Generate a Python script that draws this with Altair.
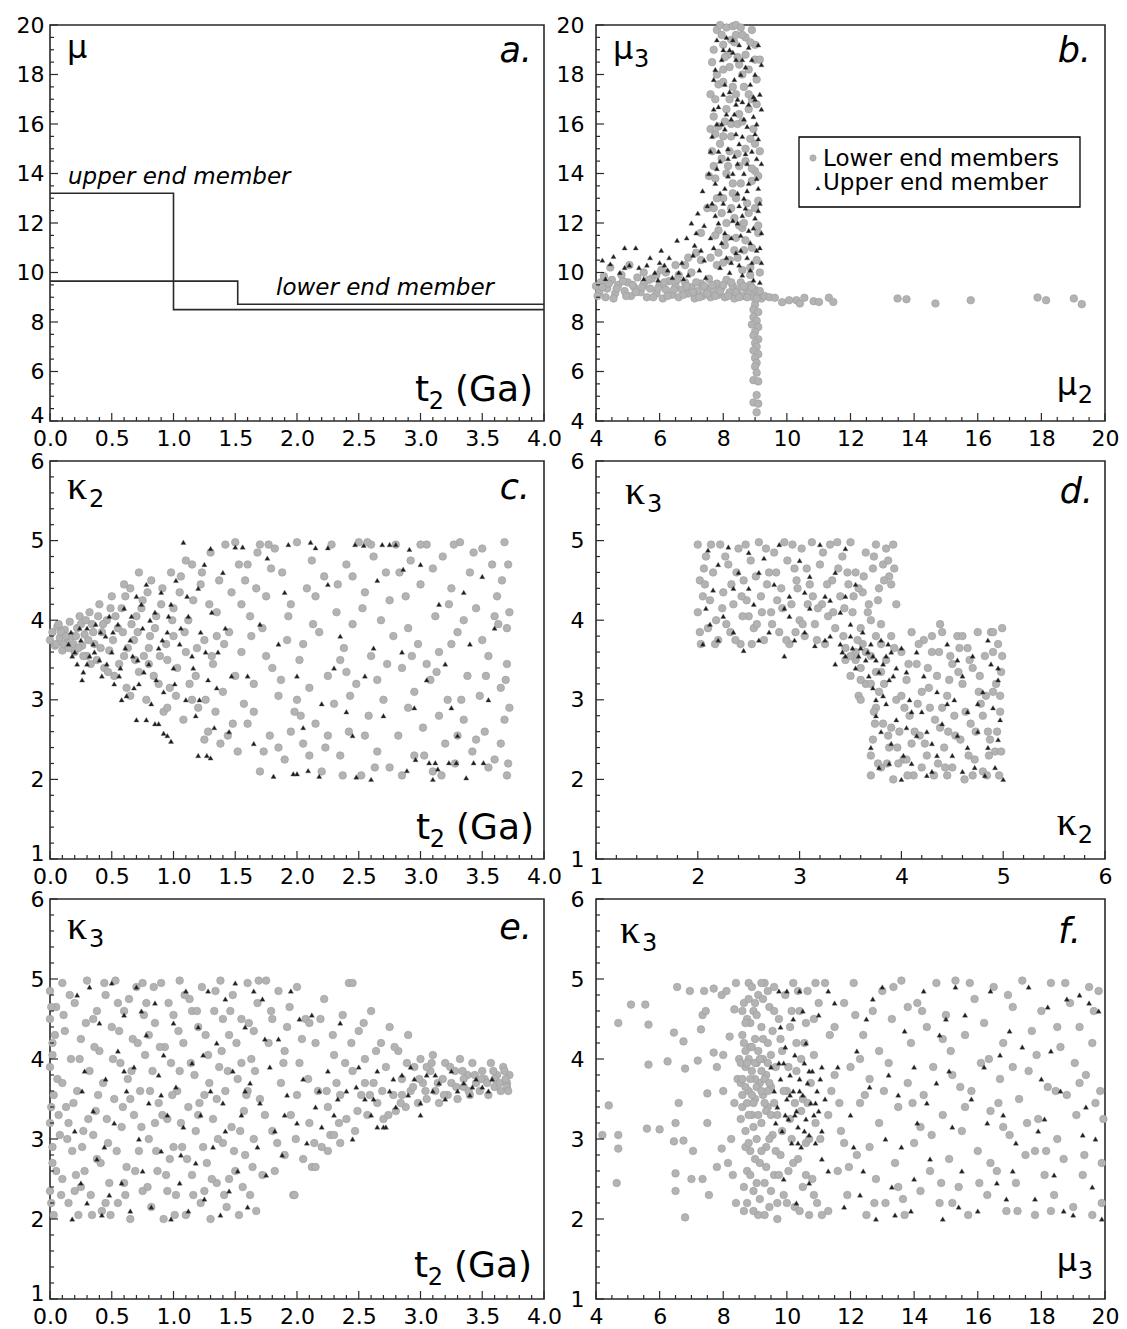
import altair as alt
import pandas as pd

SANS = "DejaVu Sans"
SERIF = "Liberation Serif"
FRAME = "#2a2a2a"
GFILL = "#b3b3b3"
GSTROKE = "#9c9c9c"
TFILL = "#1c1c1c"

# ---------------- panel a : step histories ----------------
a_upper_t = [0.0, 1.0, 4.0]
a_upper_mu = [13.2, 8.5, 8.5]
a_lower_t = [0.0, 1.52, 4.0]
a_lower_mu = [9.65, 8.72, 8.72]

# ---------------- panel b : mu2 vs mu3 ----------------
b_lower = [
    (4.0,9.45),(4.1,9.2),(4.15,9.6),(4.3,9.0),(4.35,9.35),(4.5,9.7),(4.6,9.15),(4.7,9.5),(4.8,9.9),(4.9,9.25),
    (5.0,9.6),(5.1,9.05),(5.2,9.4),(5.3,9.8),(5.4,9.2),(5.5,9.55),(5.6,9.0),(5.7,9.35),(5.75,9.75),(5.9,9.15),
    (6.0,9.5),(6.1,8.95),(6.2,9.3),(6.3,9.65),(6.4,9.1),(6.5,9.45),(6.6,9.0),(6.7,9.3),(6.8,9.6),(6.9,9.15),
    (7.0,9.4),(7.1,8.95),(7.2,9.25),(7.3,9.55),(7.35,9.05),(7.45,9.35),(7.55,9.75),(7.6,9.0),(7.7,9.3),(7.8,9.55),
    (7.85,9.1),(7.95,9.4),(8.05,9.0),(8.1,9.7),(8.2,9.2),(8.3,9.45),(8.35,8.95),(8.45,9.3),(8.55,9.6),(8.6,9.05),
    (8.7,9.35),(8.8,9.15),(8.85,9.5),(8.95,9.0),(9.0,9.3),(9.1,9.1),(9.2,8.95),(9.3,9.05),(4.45,10.2),(5.05,10.3),
    (5.5,10.0),(4.25,9.85),(6.05,10.1),
    (9.45,9.0),(9.62,8.98),(9.85,8.8),(10.07,8.88),(10.3,8.88),(10.41,8.75),(10.55,8.98),(10.84,8.84),(11.01,8.81),
    (11.32,8.98),(11.46,8.81),(13.48,8.95),(13.76,8.92),(14.67,8.75),(15.78,8.88),(17.88,8.99),(18.15,8.88),
    (19.02,8.95),(19.27,8.72),
    (9.0,8.7),(8.95,8.5),(9.1,8.4),(8.95,8.2),(9.05,8.05),(8.9,7.9),(9.1,7.8),(9.0,7.6),(8.95,7.45),(9.1,7.3),
    (9.0,7.15),(9.05,7.0),(8.95,6.85),(9.1,6.7),(9.0,6.55),(9.05,6.35),(9.0,6.2),(9.05,5.95),(8.95,5.65),(9.1,5.6),
    (9.05,5.05),(8.95,4.75),(9.1,4.7),(9.05,4.35),
    (7.65,18.5),(7.7,16.3),(7.65,14.9),(7.75,15.6),(7.8,19.8),(7.9,20.0),(8.0,19.2),(8.1,19.9),(8.3,19.95),(8.4,20.0),
    (8.55,19.9),(8.7,19.5),(8.9,19.8),(9.0,19.2),(7.85,17.6),(8.0,18.2),(8.2,17.0),(8.45,18.7),(8.6,18.0),(8.8,17.2),
    (9.05,17.8),(7.75,13.8),(7.9,15.2),(8.05,16.1),(8.25,15.5),(8.5,16.4),(8.7,15.0),(8.95,15.8),(7.7,12.6),(7.85,11.7),
    (8.0,13.0),(8.15,14.3),(8.35,12.2),(8.55,13.6),(8.75,12.8),(9.0,14.1),(7.6,10.6),(7.8,10.3),(8.05,11.1),(8.2,10.5),
    (8.4,11.4),(8.65,10.9),(8.85,10.2),(9.1,11.6),(7.3,10.5),(7.0,10.0),(6.8,10.3),(6.6,9.9),(7.95,14.6),(8.3,13.2),
    (8.6,11.8),(9.1,12.9),(8.1,12.0),(8.45,14.8),(8.8,16.6),(8.15,18.8),(7.6,17.2),(9.15,10.0),(8.9,13.7),(8.35,19.3),
]
b_lower_more = [
    (4.05,9.05),(4.2,9.4),(4.4,9.55),(4.55,8.95),(4.65,9.35),(4.85,9.65),(4.95,9.05),(5.15,9.5),(5.25,9.2),(5.45,9.4),
    (5.65,9.7),(5.8,9.0),(5.95,9.35),(6.15,9.6),(6.25,9.05),(6.45,9.3),(6.55,9.7),(6.75,9.1),(6.85,9.45),(7.05,9.2),
    (7.15,9.6),(7.25,9.0),(7.4,9.45),(7.5,9.15),(7.65,9.5),(7.75,9.05),(7.9,9.25),(8.0,9.5),(8.15,9.05),(8.25,9.6),
    (8.4,9.2),(8.5,9.0),(8.65,9.45),(8.75,9.0),(8.9,9.4),(9.05,8.95),(9.15,9.25),
    (7.7,19.0),(7.8,18.0),(7.75,17.0),(7.85,15.9),(7.7,14.3),(7.8,13.0),(7.75,11.5),(7.85,10.8),(7.95,19.6),(8.05,18.7),
    (8.0,17.7),(8.1,16.6),(8.0,15.5),(8.1,14.0),(7.95,12.4),(8.1,11.4),(8.0,10.4),(8.25,19.4),(8.2,18.3),(8.3,17.5),
    (8.25,16.0),(8.2,14.9),(8.3,13.6),(8.25,12.6),(8.35,10.9),(8.4,19.6),(8.5,18.4),(8.4,17.2),(8.45,16.0),(8.5,14.3),
    (8.4,13.0),(8.5,11.9),(8.45,10.6),(8.6,19.6),(8.7,18.8),(8.65,17.5),(8.6,16.1),(8.7,14.5),(8.65,12.0),(8.7,11.3),
    (8.6,10.1),(8.85,19.3),(8.8,18.2),(8.9,17.0),(8.85,15.4),(8.9,14.2),(8.8,12.4),(8.9,11.0),(8.85,9.9),(9.0,18.6),
    (9.05,16.8),(9.0,15.2),(9.1,13.9),(9.0,12.6),(9.05,10.5),(9.15,18.6),(9.15,14.9),(9.1,11.9),(7.6,15.8),(7.55,13.9),
    (7.5,12.6),(7.3,11.6),(7.15,10.8),(6.9,10.6),(6.5,10.3),(6.2,10.0),(5.9,9.9),
]
b_upper = [
    (4.2,10.5),(4.3,9.75),(4.45,10.35),(4.55,10.65),(4.75,10.0),(4.9,11.0),(5.05,10.3),(5.25,11.0),(5.35,10.2),(5.5,9.75),
    (5.7,10.6),(5.85,10.0),(6.05,10.9),(6.15,10.3),(6.3,10.6),(6.4,9.8),(6.55,11.3),(6.7,10.4),(6.85,11.4),(6.9,9.9),
    (7.0,12.0),(7.05,10.7),(7.15,11.6),(7.2,12.4),(7.3,10.9),(7.35,13.3),(7.4,11.9),(7.45,9.8),(7.5,12.7),(7.55,14.0),
    (6.75,9.75),(6.25,10.1),(5.95,9.7),(7.25,10.1),
    (7.65,15.5),(7.7,17.8),(7.75,13.6),(7.8,19.4),(7.7,11.0),(7.75,12.3),(7.85,16.7),(7.9,14.5),(7.95,18.6),(7.9,10.2),
    (8.0,12.8),(8.05,15.8),(8.1,19.5),(8.05,11.6),(8.15,13.9),(8.2,17.3),(8.2,10.0),(8.25,16.2),(8.3,18.9),(8.3,12.1),
    (8.35,14.7),(8.4,10.8),(8.45,17.0),(8.45,13.2),(8.5,19.2),(8.5,15.2),(8.55,11.5),(8.6,16.9),(8.6,9.9),(8.65,14.0),
    (8.7,18.3),(8.7,12.6),(8.75,15.9),(8.75,10.6),(8.8,19.1),(8.8,13.6),(8.85,17.6),(8.85,11.2),(8.9,14.9),(8.95,16.3),
    (8.95,9.7),(9.0,12.2),(9.0,18.0),(9.05,13.8),(9.05,10.9),(9.1,15.4),(9.1,19.2),(9.15,12.8),(9.15,17.2),(9.2,14.4),
    (9.2,11.6),(9.15,9.6),(7.95,16.0),(8.05,13.4),(8.25,11.4),(8.4,15.6),(8.55,18.0),(8.65,13.0),(8.9,10.4),(7.8,14.2),
    (8.1,10.6),(8.35,16.4),(8.6,12.3),(8.8,16.8),(9.05,16.0),(7.7,16.6),(8.5,10.3),(8.0,17.2),(8.3,14.0),(8.75,14.4),
    (7.85,12.0),(8.15,15.0),(8.45,12.0),(8.95,11.8),(9.1,13.4),(8.2,19.0),(8.6,15.5),(8.4,18.6),(7.6,14.9),(9.0,17.0),
]
b_upper_more = [
    (7.75,18.2),(7.8,16.0),(7.85,14.9),(7.9,13.2),(7.95,11.2),(8.0,19.0),(8.05,17.6),(8.1,16.4),(8.15,14.6),(8.2,12.5),
    (8.25,10.4),(8.3,19.4),(8.35,17.8),(8.4,16.8),(8.45,14.4),(8.5,12.7),(8.55,10.9),(8.6,18.6),(8.65,16.2),(8.7,14.8),
    (8.75,13.3),(8.8,11.7),(8.85,10.1),(8.9,18.6),(8.95,17.1),(9.0,15.6),(9.05,14.6),(9.1,12.5),(9.15,11.0),(9.2,16.6),
    (9.2,18.4),(9.2,10.4),(7.65,12.8),(7.6,11.4),(7.4,10.5),(7.1,11.1),(6.6,10.0),(6.0,10.4),(5.6,10.3),(4.9,10.2),
]

# ---------------- panel c : t2 vs kappa2 ----------------
c_lower = [
    (0.0,3.75),(0.02,3.85),(0.04,3.68),(0.06,3.92),(0.08,3.78),(0.1,3.62),(0.12,3.88),(0.14,3.72),(0.16,3.98),(0.18,3.8),
    (0.2,3.6),(0.22,3.9),(0.24,4.05),(0.26,3.68),(0.28,3.82),(0.3,3.55),(0.32,4.1),(0.34,3.95),(0.36,3.7),(0.38,3.5),
    (0.4,4.2),(0.42,3.85),(0.44,3.4),(0.46,4.0),(0.48,3.62),
    (0.5,4.3),(0.52,3.3),(0.55,3.9),(0.58,4.15),(0.6,3.55),(0.62,3.15),(0.65,4.4),(0.68,3.75),(0.7,4.05),(0.72,3.35),
    (0.75,4.25),(0.78,3.0),(0.8,3.65),(0.82,4.5),(0.85,3.9),(0.88,3.2),(0.9,4.2),(0.92,2.85),(0.95,3.5),(0.98,4.6),
    (1.0,3.8),(1.02,3.05),(1.05,4.35),(1.08,2.75),(1.1,3.6),(1.12,4.0),(1.15,4.7),(1.18,3.3),(1.2,2.9),(1.22,4.45),
    (1.25,3.75),(1.28,2.6),(1.3,4.85),(1.32,3.45),(1.35,4.1),(1.38,2.45),(1.4,3.1),(1.42,4.95),(1.45,3.85),(1.48,2.7),
    (0.6,4.45),(0.72,4.6),(1.1,4.75),(1.25,2.5),(0.95,2.9),(0.65,3.05),(1.0,4.15),(0.8,3.45),(1.15,3.0),(1.35,3.8),
    (1.5,4.98),(1.52,2.35),(1.55,3.6),(1.58,4.5),(1.6,2.7),(1.62,4.05),(1.65,3.2),(1.68,4.85),(1.7,2.1),(1.72,3.9),
    (1.75,4.3),(1.78,2.55),(1.8,3.4),(1.82,4.9),(1.85,3.05),(1.88,4.6),(1.9,2.25),(1.92,3.75),(1.95,4.2),(1.98,2.85),
    (2.0,4.98),(2.02,3.5),(2.05,2.45),(2.08,4.4),(2.1,3.15),(2.12,4.75),(2.15,2.7),(2.18,3.85),(2.2,2.1),(2.22,4.55),
    (2.25,3.3),(2.28,4.95),(2.3,2.95),(2.32,4.1),(2.35,2.3),(2.38,3.65),(2.4,4.7),(2.42,2.6),(2.45,3.95),(2.48,3.2),
    (2.5,4.98),(2.52,2.05),(2.55,4.35),(2.58,2.8),(2.6,3.55),(2.62,4.8),(2.65,2.35),(2.68,4.0),(2.7,3.0),(2.72,4.6),
    (2.75,2.15),(2.78,3.8),(2.8,4.95),(2.82,2.55),(2.85,3.4),(2.88,4.3),(2.9,2.9),(2.92,4.75),(2.95,2.3),(2.98,3.7),
    (3.0,4.45),(3.02,2.65),(3.05,4.95),(3.08,3.25),(3.1,2.1),(3.12,4.05),(3.15,3.6),(3.18,4.8),(3.2,2.45),(3.22,3.0),
    (3.25,4.4),(3.28,2.2),(3.3,3.85),(3.32,4.98),(3.35,2.75),(3.38,3.3),(3.4,4.6),(3.42,2.35),(3.45,4.15),(3.48,3.05),
    (3.5,4.9),(3.52,2.6),(3.55,3.55),(3.58,4.7),(3.6,2.25),(3.62,4.3),(3.65,3.15),(3.68,4.98),(3.7,2.05),(3.7,3.9),
    (3.68,2.75),(3.66,4.5),(3.7,3.45),(3.72,2.9),(3.72,4.1),(1.6,4.7),(1.75,3.55),(1.95,2.6),(2.15,4.3),(2.35,3.5),
    (2.55,2.55),(2.75,4.25),(2.95,3.1),(3.15,2.8),(3.35,4.0),(3.55,2.15),(1.7,4.95),(2.05,3.7),(2.45,4.55),(2.85,2.05),
    (3.25,3.7),(3.6,4.05),(1.85,2.4),(2.25,2.55),(2.65,3.25),(3.05,3.45),(3.45,2.5),(1.55,4.2),(2.0,3.0),(2.4,3.35),
    (2.9,3.9),(3.3,2.55),(3.65,2.45),(1.65,2.85),(2.1,2.3),(2.6,4.95),(3.1,4.65),(3.5,3.75),
]
c_lower_more = [
    (0.05,3.7),(0.07,3.95),(0.09,3.85),(0.11,3.7),(0.13,3.8),(0.15,3.65),(0.19,3.7),(0.21,3.8),(0.23,3.65),(0.25,3.95),
    (0.27,3.55),(0.29,4.0),(0.31,3.75),(0.33,3.45),(0.35,3.85),(0.39,4.05),(0.41,3.65),(0.43,3.95),(0.47,3.35),(0.49,4.15),
    (0.51,3.75),(0.53,4.05),(0.56,3.45),(0.59,3.85),(0.61,4.3),(0.63,3.65),(0.66,3.95),(0.69,3.5),(0.71,3.85),(0.74,4.15),
    (0.76,3.55),(0.79,4.35),(0.81,3.8),(0.84,3.3),(0.86,4.05),(0.89,3.55),(0.91,4.4),(0.94,3.7),(0.97,3.15),(0.99,4.0),
    (1.03,3.4),(1.06,4.55),(1.09,3.85),(1.13,3.2),(1.16,4.25),(1.19,3.65),(1.23,4.6),(1.26,3.0),(1.29,4.2),(1.31,3.55),
    (1.34,2.85),(1.37,4.5),(1.41,3.7),(1.44,2.55),(1.47,4.35),(1.5,3.3),(1.53,4.7),(1.57,2.95),(1.63,3.8),(1.67,4.4),
    (1.73,2.35),(1.79,4.65),(1.87,3.25),(1.93,4.05),(2.03,2.8),(2.13,3.95),(2.23,2.4),(2.33,4.45),(2.43,3.05),(2.53,4.15),
    (2.63,2.15),(2.73,3.45),(2.83,4.6),(2.93,3.55),(3.03,2.3),(3.13,3.35),(3.23,4.2),(3.33,3.0),(3.43,4.85),(3.53,3.3),
    (3.63,3.95),(3.71,2.2),(3.71,4.7),(3.69,3.25),(1.77,4.95),(2.57,4.98),(3.27,4.95),(3.0,4.95),(2.37,2.05),(3.17,2.05),
]
c_upper = [
    (0.15,3.7),(0.17,3.85),(0.2,3.6),(0.22,3.45),(0.25,3.75),(0.27,3.35),(0.3,3.9),(0.32,3.55),(0.35,3.7),(0.37,3.95),
    (0.4,3.5),(0.42,3.3),(0.45,3.8),(0.48,4.05),(0.5,3.6),(0.52,3.2),(0.55,3.95),(0.57,3.4),(0.6,4.15),(0.62,3.05),
    (0.65,3.75),(0.67,3.55),(0.7,4.3),(0.72,3.2),(0.75,3.9),(0.78,4.45),(0.8,3.45),(0.82,2.95),(0.85,4.1),(0.88,3.65),
    (0.9,4.35),(0.92,3.1),(0.95,3.85),(0.98,4.2),(1.0,3.4),(1.02,4.5),(1.05,3.7),(1.08,4.98),(1.1,3.0),(1.12,4.05),
    (1.15,3.55),(1.18,2.8),(1.2,4.4),(1.22,3.85),(1.25,4.7),(1.28,3.25),(1.3,4.9),(1.33,2.65),(1.36,3.6),(1.4,4.6),
    (0.7,2.75),(0.78,2.75),(0.85,2.7),(0.88,2.7),(0.92,2.58),(0.95,2.55),(0.98,2.48),(1.2,2.3),(1.27,2.3),(1.3,2.27),
    (1.45,2.6),(1.5,4.92),(1.56,4.92),(1.6,3.3),(1.65,2.45),
    (1.76,4.78),(1.81,2.04),(1.93,4.95),(1.97,2.07),(2.0,2.07),(2.09,2.11),(2.11,4.98),(2.15,4.91),(2.18,2.04),(2.25,4.91),
    (2.3,3.4),(2.4,2.85),(2.47,4.95),(2.48,2.03),(2.54,4.94),(2.6,2.0),(2.62,3.65),(2.69,4.95),(2.75,4.95),(2.8,4.95),
    (2.86,4.64),(2.89,2.11),(2.91,4.89),(2.96,2.25),(3.0,4.7),(3.07,2.21),(3.1,2.0),(3.12,2.21),(3.14,2.13),(3.2,3.45),
    (3.23,2.21),(3.29,2.21),(3.35,4.35),(3.37,2.02),(3.43,2.21),(3.5,4.55),(3.51,2.21),(3.55,3.0),(3.6,3.9),(1.85,3.7),
    (2.0,3.3),(2.2,2.95),(2.35,3.8),(2.55,3.3),(2.7,2.8),(2.85,3.6),(3.05,3.25),(3.25,2.9),(3.4,3.7),(1.9,4.35),
    (2.25,4.45),(2.65,4.5),(3.15,4.2),(1.7,3.95),(2.05,2.65),(2.45,2.55),(2.95,2.9),(3.3,2.55),
]
c_upper_more = [
    (0.18,3.55),(0.24,3.9),(0.3,3.45),(0.36,3.6),(0.41,3.85),(0.46,3.45),(0.51,3.85),(0.56,3.3),(0.61,3.65),(0.66,4.05),
    (0.71,3.5),(0.76,3.35),(0.81,4.0),(0.86,3.25),(0.91,3.75),(0.96,4.05),(1.01,3.2),(1.06,3.9),(1.11,4.3),(1.16,3.4),
    (1.21,3.0),(1.26,3.6),(1.31,4.1),(1.35,3.15),(1.42,3.9),(1.47,3.3),(0.26,3.25),(0.58,3.0),(0.68,3.15),(0.74,4.2),
]

# ---------------- panel d : kappa2 vs kappa3 ----------------
d_lower = [
    (2.0,4.95),(2.02,4.5),(2.0,4.1),(2.03,3.7),(2.05,4.3),(2.08,4.8),(2.1,3.9),(2.15,4.6),(2.18,4.0),(2.2,3.75),
    (2.22,4.95),(2.25,4.35),(2.3,4.7),(2.32,3.85),(2.35,4.2),(2.4,4.9),(2.42,3.7),(2.45,4.5),(2.5,4.05),(2.52,4.75),
    (2.55,3.9),(2.6,4.98),(2.62,4.3),(2.65,3.75),(2.7,4.6),(2.72,4.1),(2.75,4.85),(2.8,3.85),(2.82,4.4),(2.85,4.98),
    (2.9,3.7),(2.92,4.2),(2.95,4.65),(3.0,4.0),(3.02,4.9),(3.05,3.8),(3.1,4.45),(3.12,4.98),(3.15,3.95),(3.2,4.7),
    (3.22,4.2),(3.25,3.7),(3.3,4.95),(3.32,4.5),(3.35,3.9),(3.4,4.3),(3.42,4.8),(3.45,3.65),(3.5,4.98),(3.52,4.1),
    (3.55,4.6),(3.6,3.9),(3.62,4.35),(3.65,4.85),(3.7,4.0),(3.72,4.65),(3.75,4.95),(3.78,4.4),(3.82,4.7),(3.85,4.9),
    (3.88,4.55),(3.92,4.95),(3.9,4.45),(3.95,4.2),(2.12,4.25),(2.38,4.6),(2.58,3.95),(2.78,4.25),(2.98,4.4),(3.18,4.15),
    (3.38,4.65),(3.58,4.4),(2.28,3.95),(2.48,4.25),(2.68,4.45),(2.88,4.75),(3.08,4.2),(3.28,4.05),(3.48,4.45),(3.68,4.2),
    (3.8,3.95),(2.06,4.65),(2.44,4.05),(2.96,3.85),(3.44,4.15),(3.75,3.8),
    (3.45,3.5),(3.5,3.3),(3.55,3.6),(3.6,3.4),(3.65,3.2),(3.58,3.05),(3.7,3.55),(3.75,3.35),(3.8,3.7),(3.62,3.7),
    (3.7,2.05),(3.72,2.5),(3.75,2.9),(3.7,2.3),(3.78,3.1),(3.8,2.15),(3.82,2.7),(3.85,3.5),(3.88,2.4),(3.9,3.8),
    (3.92,2.0),(3.95,3.0),(3.98,2.6),(4.0,3.6),(4.02,2.25),(4.05,3.25),(4.08,2.8),(4.1,3.85),(4.12,2.05),(4.15,3.45),
    (4.18,2.55),(4.2,3.1),(4.22,3.75),(4.25,2.3),(4.28,2.9),(4.3,3.6),(4.32,2.05),(4.35,3.3),(4.38,2.65),(4.4,3.85),
    (4.42,2.4),(4.45,3.05),(4.48,3.55),(4.5,2.15),(4.52,2.8),(4.55,3.8),(4.58,2.5),(4.6,3.2),(4.62,2.0),(4.65,3.65),
    (4.68,2.7),(4.7,3.4),(4.72,2.25),(4.75,3.85),(4.78,2.95),(4.8,2.1),(4.82,3.55),(4.85,2.6),(4.88,3.85),(4.9,3.1),
    (4.92,2.35),(4.95,3.7),(4.97,2.85),(4.98,3.35),(4.96,2.05),(4.99,3.9),(3.74,2.7),(3.86,2.2),(3.96,2.4),(4.06,2.05),
    (4.16,2.95),(4.26,3.4),(4.36,2.2),(4.46,2.6),(4.56,3.35),(4.66,2.3),(4.76,3.1),(4.86,2.3),(4.94,2.6),(3.8,3.35),
    (4.0,3.05),(4.2,2.15),(4.4,2.9),(4.6,3.8),(4.8,2.8),(3.9,2.65),(4.1,2.45),(4.3,3.8),(4.5,3.45),(4.7,2.05),
    (4.9,3.6),(3.6,3.0),(4.38,3.95),(4.84,2.05),
]
d_lower_more = [
    (2.02,3.85),(2.07,4.45),(2.13,4.95),(2.17,3.7),(2.24,4.15),(2.27,4.8),(2.33,4.45),(2.37,3.75),(2.43,4.3),(2.47,4.95),
    (2.53,3.7),(2.57,4.55),(2.63,4.1),(2.67,4.9),(2.73,3.95),(2.77,4.6),(2.83,4.15),(2.87,3.75),(2.93,4.95),(2.97,4.5),
    (3.03,3.95),(3.07,4.65),(3.13,4.3),(3.17,3.75),(3.23,4.85),(3.27,4.45),(3.33,4.1),(3.37,4.98),(3.43,3.8),(3.47,4.6),
    (3.53,4.3),(3.57,3.75),(3.63,4.55),(3.67,4.1),(3.73,4.8),(3.77,4.25),(3.83,4.5),(3.87,4.75),(3.93,4.65),(3.55,3.5),
    (3.65,3.6),(3.5,3.55),(3.7,3.2),(3.6,3.25),
    (3.73,2.85),(3.77,2.2),(3.83,3.2),(3.87,2.55),(3.93,3.65),(3.97,2.2),(4.03,2.9),(4.07,3.45),(4.13,2.6),(4.17,3.7),
    (4.23,2.45),(4.27,3.15),(4.33,2.75),(4.37,3.6),(4.43,2.15),(4.47,3.25),(4.53,2.55),(4.57,3.65),(4.63,2.85),(4.67,3.5),
    (4.73,2.6),(4.77,3.3),(4.83,3.05),(4.87,2.5),(4.93,3.2),(4.98,2.35),(4.99,3.55),(4.97,3.05),(4.05,2.25),(4.45,2.05),
    (4.9,3.85),
]
d_upper = [
    (2.05,3.7),(2.08,4.15),(2.1,4.88),(2.15,4.38),(2.2,3.75),(2.25,4.05),(2.3,4.92),(2.35,3.85),(2.4,4.6),(2.45,3.62),
    (2.5,4.85),(2.55,4.2),(2.6,3.75),(2.65,4.78),(2.7,3.85),(2.75,4.45),(2.8,4.95),(2.85,3.55),(2.9,4.3),(2.95,3.75),
    (3.0,4.75),(3.05,3.85),(3.1,4.55),(3.15,3.68),(3.2,4.95),(3.25,4.3),(3.3,3.8),(3.35,4.6),(3.4,4.1),(3.45,4.9),
    (3.5,3.95),(3.55,4.45),(3.3,4.25),(2.5,4.4),(2.9,4.05),(3.1,4.15),(2.2,4.7),
    (3.35,3.45),(3.4,3.7),(3.45,3.55),(3.5,3.8),(3.55,3.4),(3.6,3.65),(3.62,3.85),(3.65,3.5),(3.68,3.3),(3.7,3.7),
    (3.72,3.15),(3.75,3.5),(3.78,3.35),(3.8,3.75),(3.82,3.05),(3.85,3.55),(3.88,3.25),(3.9,3.6),(3.95,3.4),(4.0,3.65),
    (3.58,3.55),(3.75,3.0),
    (3.7,2.4),(3.75,2.8),(3.78,2.15),(3.8,2.6),(3.85,2.95),(3.88,2.2),(3.9,2.45),(3.95,2.75),(4.0,2.0),(4.02,2.3),
    (4.05,2.65),(4.08,3.0),(4.1,2.2),(4.15,2.55),(4.2,2.85),(4.22,3.3),(4.25,2.05),(4.3,2.45),(4.35,3.1),(4.4,2.7),
    (4.45,3.7),(4.5,2.3),(4.52,3.0),(4.55,2.55),(4.6,3.3),(4.65,2.85),(4.7,3.55),(4.72,2.15),(4.75,2.6),(4.8,3.1),
    (4.82,2.05),(4.85,2.4),(4.88,3.45),(4.9,2.9),(4.92,2.15),(4.95,3.25),(4.97,2.75),(5.0,2.0),(4.15,3.6),(4.35,2.3),
    (4.6,2.1),(4.85,3.75),(4.25,2.6),(4.45,2.95),(4.65,2.4),(4.95,3.4),
]
d_upper_more = [
    (2.12,3.95),(2.35,4.4),(2.6,4.6),(2.85,4.15),(3.05,4.35),(3.25,3.75),(3.45,4.3),(3.42,3.6),(3.52,3.65),(3.67,3.6),
    (3.82,3.45),(3.92,3.3),(3.72,3.55),(3.87,3.7),(4.1,2.85),(4.3,2.1),(4.55,3.5),(4.75,2.95),(4.95,2.5),(4.05,3.35),
]

# ---------------- panel e : t2 vs kappa3 ----------------
e_lower = [
    (0.0,4.85),(0.0,4.5),(0.02,4.2),(0.0,3.9),(0.03,3.55),(0.0,3.2),(0.02,2.7),(0.0,2.35),(0.03,2.05),(0.05,4.65),
    (0.06,3.75),(0.08,3.05),(0.1,4.95),(0.1,2.5),(0.12,4.35),(0.13,3.4),(0.15,2.2),(0.17,4.0),(0.18,2.85),(0.2,4.7),
    (0.22,3.6),(0.23,2.05),(0.25,4.25),(0.27,3.1),(0.28,2.6),(0.3,4.98),(0.32,3.85),(0.33,2.3),(0.35,4.5),(0.37,3.35),
    (0.38,2.75),(0.4,4.1),(0.42,2.1),(0.43,3.7),(0.45,4.8),(0.47,2.95),(0.48,2.45),(0.5,4.4),(0.52,3.5),(0.53,4.98),
    (0.55,2.2),(0.57,3.95),(0.58,3.15),(0.6,4.6),(0.62,2.65),(0.63,3.75),(0.65,2.0),(0.67,4.25),(0.68,3.3),(0.7,4.9),
    (0.72,2.85),(0.73,3.6),(0.75,2.35),(0.77,4.05),(0.78,4.7),(0.8,3.0),(0.82,2.15),(0.83,3.85),(0.85,4.45),(0.87,2.6),
    (0.88,3.45),(0.9,4.95),(0.92,2.0),(0.93,4.15),(0.95,3.25),(0.97,2.75),(0.98,3.95),(1.0,4.55),(1.02,2.3),(1.03,3.6),
    (1.05,4.98),(1.07,2.9),(1.08,4.2),(1.1,2.05),(1.12,3.4),(1.13,4.75),(1.15,2.55),(1.17,3.8),(1.18,3.1),(1.2,4.4),
    (1.22,2.2),(1.23,4.9),(1.25,3.55),(1.27,2.7),(1.28,4.05),(1.3,2.0),(1.32,3.25),(1.33,4.6),(1.35,2.45),(1.37,3.9),
    (1.38,4.98),(1.4,2.95),(1.42,3.6),(1.43,2.15),(1.45,4.3),(1.47,3.15),(1.48,4.8),(1.5,2.6),(1.52,3.75),(1.53,2.05),
    (1.55,4.5),(1.57,3.35),(1.58,2.8),(1.6,4.95),(1.62,2.3),(1.63,4.0),(1.65,3.0),(1.67,2.1),(1.68,4.7),(1.7,3.5),
    (1.72,2.55),(1.75,4.98),(1.77,4.2),(1.8,3.1),(1.82,2.6),(1.85,4.85),(1.87,3.7),(1.9,2.8),(1.92,4.4),(1.95,3.3),
    (1.97,2.3),(2.0,4.9),(2.02,3.95),(2.05,2.75),(2.07,4.5),(2.1,3.2),(2.12,2.65),(2.15,4.2),(2.17,3.6),(2.2,2.9),
    (2.22,4.75),(2.25,3.4),(2.27,3.05),(2.3,4.05),(2.32,3.7),(2.35,2.95),(2.37,4.55),(2.4,3.25),(2.42,4.95),(2.45,3.85),
    (2.47,3.1),(2.5,4.35),(2.52,3.55),(2.55,4.0),(2.57,3.3),(2.6,4.6),(2.62,3.7),(2.65,3.45),(2.68,4.2),(2.7,3.25),
    (2.72,3.9),(2.75,4.4),(2.78,3.55),(2.8,3.35),(2.82,4.1),(2.85,3.75),(2.88,3.4),(2.9,4.3),(2.92,3.6),(2.95,3.9),
    (2.98,3.45),(3.0,4.0),(3.02,3.7),(3.05,3.5),(3.08,3.85),(3.1,4.05),(3.12,3.6),(3.15,3.45),(3.18,3.75),(3.2,3.95),
    (3.22,3.55),(3.25,3.7),(3.28,3.85),(3.3,3.5),(3.32,4.0),(3.35,3.65),(3.38,3.8),(3.4,3.55),(3.42,3.95),(3.45,3.7),
    (3.48,3.6),(3.5,3.85),(3.52,3.75),(3.55,3.55),(3.57,3.95),(3.6,3.65),(3.62,3.8),(3.65,3.6),(3.67,3.9),(3.7,3.7),
    (3.72,3.8),(3.7,3.65),(3.68,3.85),(1.98,2.3),(2.45,4.95),(2.15,2.65),(2.25,2.85),(2.3,3.05),
    (0.1,3.7),(0.2,2.35),(0.35,3.05),(0.45,2.2),(0.55,4.7),(0.65,3.5),(0.75,4.95),(0.85,3.2),(0.95,2.35),(1.05,3.85),
    (1.15,4.6),(1.25,2.35),(1.35,3.5),(1.45,2.5),(1.55,3.95),(1.65,4.35),(0.05,2.6),(0.15,3.2),(0.25,2.4),(0.38,4.6),
    (0.6,2.45),(0.8,4.3),(1.0,2.9),(1.2,3.3),(1.4,4.5),(1.6,3.6),(1.8,4.5),(2.0,3.55),(1.9,4.1),(2.1,4.45),
    (2.35,3.55),(2.55,3.7),(2.85,3.55),(3.05,3.9),(3.35,3.75),(3.6,3.75),
]
e_lower_more = [
    (0.01,4.65),(0.02,4.05),(0.01,3.4),(0.02,2.9),(0.01,2.2),(0.04,4.3),(0.07,3.3),(0.09,2.3),(0.11,4.55),(0.14,3.0),
    (0.16,4.8),(0.19,3.45),(0.21,2.55),(0.24,4.0),(0.26,2.9),(0.29,4.45),(0.31,3.25),(0.34,2.05),(0.36,4.15),(0.39,3.55),
    (0.41,2.7),(0.44,4.95),(0.46,3.25),(0.49,2.05),(0.51,4.0),(0.54,2.85),(0.56,4.35),(0.59,3.4),(0.61,2.3),(0.64,4.75),
    (0.66,3.85),(0.69,2.6),(0.71,4.2),(0.74,3.15),(0.76,4.55),(0.79,2.4),(0.81,3.6),(0.84,4.9),(0.86,2.85),(0.89,4.15),
    (0.91,3.3),(0.94,2.55),(0.96,4.7),(0.99,3.55),(1.01,2.05),(1.04,4.35),(1.06,3.2),(1.09,4.8),(1.11,2.75),(1.14,3.95),
    (1.16,2.3),(1.19,4.6),(1.21,3.45),(1.24,2.9),(1.26,4.3),(1.29,3.7),(1.31,2.5),(1.34,4.85),(1.36,3.0),(1.39,4.1),
    (1.41,2.3),(1.44,3.85),(1.46,4.6),(1.49,2.85),(1.51,4.2),(1.54,3.1),(1.56,2.4),(1.59,3.55),(1.61,4.45),(1.64,2.65),
    (1.66,3.85),(1.69,4.98),(1.74,3.3),(1.79,4.6),(1.84,2.95),(1.89,3.95),(1.94,4.65),(1.99,3.0),(2.04,4.25),(2.09,3.75),
    (2.14,2.95),(2.19,4.5),(2.24,3.6),(2.29,4.3),(2.34,3.2),(2.39,3.95),(2.44,4.2),(2.49,3.35),(2.54,4.45),(2.59,3.55),
    (2.64,4.1),(2.69,3.6),(2.74,3.3),(2.79,4.15),(2.84,3.45),(2.89,3.95),(2.94,3.65),(2.99,3.75),(3.04,3.6),(3.09,3.95),
    (3.14,3.7),(3.19,3.55),(3.24,3.9),(3.29,3.65),(3.34,3.85),(3.39,3.6),(3.44,3.8),(3.49,3.75),(3.54,3.7),(3.59,3.85),
    (3.64,3.7),(3.69,3.75),(3.71,3.6),
]
e_upper = [
    (0.18,2.0),(0.2,3.1),(0.22,4.8),(0.25,2.45),(0.28,3.85),(0.3,2.2),(0.32,4.9),(0.35,3.35),(0.38,2.75),(0.4,4.45),
    (0.42,2.05),(0.45,3.75),(0.48,2.3),(0.5,4.95),(0.52,3.2),(0.55,4.1),(0.58,2.45),(0.6,4.55),(0.62,3.6),(0.65,2.1),
    (0.68,3.9),(0.7,4.9),(0.72,3.0),(0.75,2.6),(0.78,4.3),(0.8,3.45),(0.82,2.15),(0.85,4.7),(0.88,3.8),(0.9,2.85),
    (0.92,4.05),(0.95,3.3),(0.98,2.0),(1.0,4.45),(1.02,3.65),(1.05,2.45),(1.08,3.15),(1.1,4.85),(1.12,2.1),(1.15,3.95),
    (1.18,2.7),(1.2,4.4),(1.22,3.3),(1.25,2.25),(1.28,4.85),(1.3,3.6),(1.32,2.9),(1.35,4.2),(1.38,2.05),(1.4,3.45),
    (1.42,4.75),(1.45,2.35),(1.48,3.85),(1.5,4.95),(1.52,2.6),(1.55,3.3),(1.58,4.4),(1.6,2.15),(1.62,3.7),(1.65,4.85),
    (1.68,2.9),(1.7,3.45),(1.72,4.75),(1.75,2.55),(1.78,3.9),(1.82,3.1),(1.85,4.25),(1.88,2.8),(1.92,3.55),(1.95,4.85),
    (2.0,3.2),(2.05,3.75),(2.08,2.95),(2.12,4.55),(2.15,3.4),(2.2,3.15),(2.25,3.85),(2.3,3.3),(2.35,4.45),(2.4,3.6),
    (2.45,3.0),(2.5,3.9),(2.55,3.5),(2.6,3.3),(2.65,3.85),(2.7,3.15),(2.75,3.6),(2.8,3.4),(2.85,3.8),(2.9,3.55),
    (2.95,3.75),(3.0,3.45),(3.05,3.8),(3.1,3.6),(3.15,3.7),(3.2,3.5),(3.25,3.85),(3.3,3.6),(3.35,3.7),(3.4,3.55),
    (3.45,3.75),(3.5,3.65),(3.55,3.6),(3.58,3.75),(2.65,3.15),(2.72,3.15),(3.0,3.3),
]
e_upper_more = [
    (0.26,3.6),(0.44,2.9),(0.6,3.85),(0.74,4.6),(0.9,3.55),(1.06,2.8),(1.24,4.05),(1.42,3.1),(1.58,3.6),(1.74,4.25),
    (1.9,3.3),(2.02,4.5),(2.18,3.6),(2.33,3.5),(2.48,3.65),(2.62,3.5),(2.78,3.75),(2.92,3.9),(3.12,3.8),(3.42,3.65),
]

# ---------------- panel f : mu3 vs kappa3 ----------------
f_lower = [
    (4.2,3.05),(4.4,3.42),(4.65,2.45),(4.7,3.05),(4.7,2.88),(4.7,4.45),(5.1,4.68),(5.55,4.68),(5.65,4.43),(5.65,3.93),
    (5.6,3.13),(6.0,3.12),(6.25,3.97),(6.45,4.33),(6.5,3.2),(6.45,2.97),(6.5,2.57),(6.5,2.35),(6.55,4.9),(6.6,3.45),
    (6.75,4.22),(6.8,3.88),(6.75,2.98),(6.8,2.02),(6.95,4.85),(7.05,2.85),(7.0,2.5),(7.3,4.37),(7.2,3.98),(7.35,2.5),
    (7.35,4.55),(7.4,4.85),(7.5,3.57),(7.5,3.2),(7.55,2.3),(7.7,4.88),(7.7,4.08),(7.8,3.9),(7.8,2.65),(7.95,4.8),
    (8.0,4.05),(8.0,3.6),(7.95,2.88),(8.15,2.7),(8.2,4.28),(8.25,3.0),(8.3,2.55),(8.35,4.62),(8.35,3.45),(8.4,2.2),
    (7.45,4.6),(8.1,4.85),(8.45,3.75),(8.4,4.95),
    (8.5,4.0),(8.55,3.7),(8.6,4.3),(8.6,3.4),(8.65,4.7),(8.65,2.1),(8.7,3.9),(8.7,3.1),(8.75,4.5),(8.75,2.6),
    (8.8,3.6),(8.8,4.95),(8.85,4.15),(8.85,2.85),(8.9,3.3),(8.9,3.85),(8.95,4.6),(8.95,2.35),(9.0,3.5),(9.0,4.25),
    (9.05,3.0),(9.05,3.95),(9.1,4.8),(9.1,2.05),(9.15,3.7),(9.15,2.7),(9.2,4.4),(9.2,3.2),(9.25,3.55),(9.25,4.0),
    (9.3,2.45),(9.3,4.95),(9.35,3.8),(9.35,2.9),(9.4,4.2),(9.4,3.4),(9.45,4.65),(9.45,2.15),(9.5,3.65),(9.55,4.35),
    (9.55,3.05),(9.6,2.55),(9.6,4.9),(9.65,3.9),(9.7,3.3),(9.7,2.0),(9.75,4.5),(9.8,2.8),(9.85,4.1),(9.9,2.3),
    (9.95,4.8),(10.0,3.6),(10.05,2.6),(10.1,4.4),(10.15,3.0),(10.2,4.95),(10.25,2.15),(10.3,3.85),(10.35,2.75),(10.4,4.6),
    (10.45,3.35),(10.5,2.4),(10.55,4.2),(10.6,2.95),(10.65,4.85),(10.7,2.05),(10.75,3.7),(10.8,2.5),(10.85,4.5),(10.9,3.2),
    (10.95,2.2),(11.0,4.7),(8.6,3.75),(8.8,4.0),(9.0,3.75),(9.2,3.85),(9.4,3.6),(8.7,4.1),(8.9,3.55),(9.1,4.1),
    (9.3,3.45),(8.55,3.25),(8.75,3.45),(8.95,3.15),(9.5,4.05),(8.85,4.45),(9.05,4.55),(9.25,4.75),(8.7,2.9),(9.35,2.65),
    (9.6,3.45),(9.8,4.25),(10.1,3.25),(10.3,4.2),(10.5,3.5),(10.7,3.0),
    (11.2,4.95),(11.3,2.1),(11.4,3.6),(11.5,4.4),(11.6,2.6),(11.7,3.1),(11.8,4.7),(11.9,2.3),(12.0,3.9),(12.1,4.95),
    (12.2,2.8),(12.3,3.45),(12.4,4.3),(12.5,2.05),(12.6,3.75),(12.7,4.6),(12.8,2.5),(12.9,3.2),(13.0,4.85),(13.1,2.2),
    (13.2,3.95),(13.3,4.5),(13.4,2.7),(13.5,3.4),(13.6,4.98),(13.7,2.05),(13.8,3.7),(13.9,4.2),(14.0,2.95),(14.1,4.7),
    (14.2,2.35),(14.3,3.55),(14.4,4.4),(14.5,2.6),(14.6,3.9),(14.7,4.95),(14.8,2.2),(14.9,3.3),(15.0,4.55),(15.1,2.75),
    (15.2,3.8),(15.3,4.98),(15.4,2.4),(15.5,3.1),(15.6,4.3),(15.7,2.05),(15.8,3.6),(15.9,4.75),(16.0,2.85),(16.1,3.95),
    (16.2,4.45),(16.3,2.3),(16.4,3.35),(16.5,4.9),(16.6,2.6),(16.7,3.75),(16.8,4.2),(16.9,2.1),(17.0,3.05),(17.1,4.65),
    (17.2,2.45),(17.3,3.5),(17.4,4.98),(17.5,2.8),(17.6,3.85),(17.7,4.35),(17.8,2.05),(17.9,3.25),(18.0,4.6),(18.1,2.55),
    (18.2,3.65),(18.3,4.95),(18.4,2.3),(18.5,3.0),(18.6,4.15),(18.7,2.75),(18.8,3.55),(18.9,4.7),(19.0,2.15),(19.1,3.3),
    (19.2,4.4),(19.3,2.55),(19.4,3.8),(19.5,4.9),(19.6,2.05),(19.7,3.45),(19.8,4.85),(19.9,2.7),(19.95,3.25),(19.9,2.2),
    (11.3,3.3),(11.8,2.95),(12.3,4.0),(12.9,4.1),(13.5,2.4),(14.2,3.15),(14.9,4.25),(15.6,3.4),(16.4,2.7),(17.1,3.9),
    (17.8,2.85),(18.5,4.4),(19.2,3.7),(11.5,3.8),(12.6,2.9),(13.8,4.65),(15.2,2.2),(16.8,3.15),(18.3,2.1),(19.6,4.2),
]
f_lower_more = [
    (8.55,3.95),(8.6,3.55),(8.65,4.2),(8.7,3.65),(8.75,3.95),(8.8,3.3),(8.85,3.75),(8.9,4.15),(8.95,3.45),(9.0,3.95),
    (9.05,3.65),(9.1,3.3),(9.15,4.0),(9.2,3.6),(9.25,4.25),(9.3,3.75),(9.35,3.35),(9.4,3.95),(9.45,3.7),(9.5,3.3),
    (8.6,4.6),(8.7,4.45),(8.8,4.75),(8.9,4.9),(9.0,4.7),(9.2,4.95),(9.4,4.85),(9.6,4.6),(8.65,2.4),(8.75,2.2),
    (8.85,2.55),(8.95,2.1),(9.05,2.45),(9.15,2.25),(9.3,2.05),(9.5,2.35),(9.7,2.2),(8.8,2.95),(9.0,2.75),(9.2,2.85),
    (9.45,3.0),(9.65,2.85),(9.85,3.1),(10.05,3.9),(10.25,3.45),(10.45,4.0),(10.65,3.45),(10.85,4.05),(11.05,3.0),(9.9,3.6),
    (10.15,4.6),(10.35,4.85),(10.6,4.45),(10.9,4.95),(9.75,2.55),(10.0,2.2),(10.2,2.7),(10.4,2.1),(10.6,2.55),(10.85,2.3),
    (11.1,2.05),
    (11.35,4.3),(11.65,3.45),(11.95,2.65),(12.15,4.55),(12.45,3.55),(12.75,2.2),(13.05,3.6),(13.35,4.9),(13.65,2.25),(13.95,3.45),
    (14.25,4.6),(14.55,3.05),(14.85,2.45),(15.15,4.1),(15.45,3.65),(15.75,4.95),(16.05,2.45),(16.35,4.0),(16.65,3.45),(16.95,4.8),
    (17.25,2.1),(17.55,3.2),(17.85,4.05),(18.15,2.85),(18.45,3.6),(18.75,4.95),(19.05,3.95),(19.35,2.8),(19.65,4.6),(19.85,3.6),
]
f_upper = [
    (9.5,3.9),(9.6,3.6),(9.7,3.4),(9.8,3.75),(9.85,3.1),(9.9,3.95),(10.0,3.5),(10.05,3.25),(10.1,3.8),(10.15,2.95),
    (10.2,3.6),(10.25,4.05),(10.3,3.35),(10.35,3.15),(10.4,3.75),(10.45,2.9),(10.5,3.55),(10.55,3.95),(10.6,3.25),(10.65,3.7),
    (10.7,3.05),(10.75,3.45),(10.8,3.85),(10.85,3.3),(10.9,2.95),(10.95,3.6),(11.0,3.35),(11.05,3.75),(11.1,3.1),(11.2,3.5),
    (9.75,4.85),(10.0,4.85),(10.4,4.85),(10.5,4.6),(9.8,4.4),(10.2,4.5),(10.6,4.2),(11.0,4.55),(9.9,2.5),(10.3,2.2),
    (10.7,2.45),(11.1,2.75),
    (11.5,4.7),(11.8,2.15),(12.0,3.3),(12.2,4.1),(12.4,2.6),(12.6,3.65),(12.8,2.0),(13.0,4.9),(13.1,3.0),(13.3,2.4),
    (13.5,3.55),(13.7,4.35),(13.9,2.1),(14.1,3.2),(14.3,4.85),(14.5,2.75),(14.7,3.7),(14.9,2.0),(15.0,4.5),(15.2,3.15),
    (15.4,2.15),(15.6,4.55),(15.8,3.5),(16.0,2.1),(16.2,3.9),(16.4,4.85),(16.6,2.45),(16.8,3.3),(17.0,4.35),(17.2,2.95),
    (17.4,4.15),(17.6,4.9),(17.8,2.25),(18.0,3.75),(18.2,4.65),(18.4,2.55),(18.6,3.6),(18.8,4.75),(19.0,2.05),(19.2,4.8),
    (19.4,3.4),(19.6,2.4),(19.8,4.6),(19.9,2.0),(11.3,2.6),(11.6,3.9),(12.5,4.5),(13.2,3.8),(14.0,2.5),(14.8,4.3),
    (15.5,2.6),(16.3,3.2),(17.1,2.6),(17.9,3.1),(18.7,2.1),(19.3,3.05),(12.1,2.9),(13.6,2.9),(15.1,3.85),(16.7,4.05),
    (18.1,3.25),(19.5,4.7),(12.3,2.3),(14.4,3.45),
]
f_upper_more = [
    (9.65,3.2),(9.75,3.95),(9.95,3.3),(10.1,3.55),(10.25,3.3),(10.4,3.6),(10.55,3.1),(10.7,3.85),(10.9,3.45),(11.1,3.9),
    (10.35,2.95),(9.95,4.15),(11.3,4.85),(12.7,4.75),(14.0,3.9),(15.3,4.9),(16.9,2.25),(18.3,4.1),(19.7,3.0),(13.4,2.05),
]

# axis tick values
def seq(a, b, step):
    n = int(round((b - a) / step))
    return [round(a + i * step, 4) for i in range(n + 1)]

T_MAJ = seq(0, 4, 0.5); T_MIN = seq(0, 4, 0.1)
MU_MAJ = seq(4, 20, 2); MU_MIN = seq(4, 20, 0.5)
K_MAJ = seq(1, 6, 1); K_MIN = seq(1, 6, 0.2)

ONE = pd.DataFrame({"k": [0]})


def pts(pairs):
    return pd.DataFrame(pairs, columns=["x", "y"])


def txt(s, x, y, size, font=SANS, align="left", style="normal"):
    return alt.Chart(ONE).mark_text(
        text=s, align=align, baseline="alphabetic", font=font, fontSize=size,
        fontStyle=style, color="black"
    ).encode(x=alt.value(x), y=alt.value(y))


def sym_left(base, sub, x, y, font, size, bw):
    return [txt(base, x, y, size, font=font), txt(sub, x + bw, y + 8, 24)]


def sym_right(base, sub, xr, y, font, size):
    return [txt(sub, xr, y + 8, 24, align="right"), txt(base, xr - 16, y, size, font=font, align="right")]


def t2_label(xr, y):
    return [txt("(Ga)", xr, y, 36, align="right"),
            txt("2", xr - 89, y + 8, 24, align="right"),
            txt("t", xr - 104, y, 36, align="right")]


def panel(W, H, xdom, ydom, xmaj, xmin, ymaj, ymin, xfmt, ypad, shift_bottom, first, rest):
    xs = alt.Scale(domain=xdom, nice=False, zero=False)
    ys = alt.Scale(domain=ydom, nice=False, zero=False)
    xax = alt.Axis(values=xmaj, format=xfmt, labelFont=SANS, labelFontSize=22, labelColor="black",
                   ticks=False, domain=False, grid=False, labelPadding=7, labelFlush=False,
                   labelOverlap=False, title=None)
    yargs = dict(values=ymaj, format="d", labelFont=SANS, labelFontSize=22, labelColor="black",
                 ticks=False, domain=False, grid=False, labelPadding=ypad, labelOverlap=False, title=None)
    if shift_bottom:
        yargs["labelOffset"] = {"condition": {"test": f"datum.value == {ydom[0]}", "value": -6}, "value": 0}
    yax = alt.Axis(**yargs)
    kind, data = first
    if kind == "lines":
        base = alt.Chart(data).mark_line(color=FRAME, strokeWidth=1.6, interpolate="step-after").encode(
            x=alt.X("x:Q", scale=xs, axis=xax), y=alt.Y("y:Q", scale=ys, axis=yax), detail="m:N")
        layers = [base]
    else:
        low, up = data
        layers = [
            alt.Chart(pts(low)).mark_circle(size=58, fill=GFILL, stroke=GSTROKE, strokeWidth=0.6, opacity=1).encode(
                x=alt.X("x:Q", scale=xs, axis=xax), y=alt.Y("y:Q", scale=ys, axis=yax)),
            alt.Chart(pts(up)).mark_point(shape="triangle-up", filled=True, size=26, fill=TFILL,
                                           stroke="#666666", strokeWidth=0.4, opacity=1).encode(
                x=alt.X("x:Q", scale=xs), y=alt.Y("y:Q", scale=ys)),
        ]
    for vals, L in ((xmaj, 8), ([v for v in xmin if v not in xmaj], 4)):
        layers.append(alt.Chart(pd.DataFrame({"x": vals})).mark_rule(color=FRAME, strokeWidth=1.2).encode(
            x=alt.X("x:Q", scale=xs), y=alt.value(H), y2=alt.value(H - L)))
    for vals, L in ((ymaj, 8), ([v for v in ymin if v not in ymaj], 4)):
        layers.append(alt.Chart(pd.DataFrame({"y": vals})).mark_rule(color=FRAME, strokeWidth=1.2).encode(
            y=alt.Y("y:Q", scale=ys), x=alt.value(0), x2=alt.value(L)))
    layers += rest
    return alt.layer(*layers).properties(width=W, height=H)


WL, WR = 494, 509
H1, H2, H3 = 396, 398, 400

# panel a
a_df = pd.concat([
    pd.DataFrame({"x": a_upper_t, "y": a_upper_mu, "m": "upper"}),
    pd.DataFrame({"x": a_lower_t, "y": a_lower_mu, "m": "lower"}),
])
pa = panel(WL, H1, [0, 4], [4, 20], T_MAJ, T_MIN, MU_MAJ, MU_MIN, ".1f", 6, True, ("lines", a_df), [
    txt("μ", 17, 33, 32),
    txt("a.", WL - 12, 37, 35, align="right", style="italic"),
    txt("upper end member", 18, 159, 23, style="italic"),
    txt("lower end member", 226, 270, 23, style="italic"),
] + t2_label(WL - 11, H1 - 20))

# panel b with legend
legend = [
    alt.Chart(ONE).mark_rect(fill="white", stroke="black", strokeWidth=1.3).encode(
        x=alt.value(203), x2=alt.value(484), y=alt.value(112), y2=alt.value(182)),
    alt.Chart(ONE).mark_circle(size=40, fill=GFILL, stroke=GSTROKE, strokeWidth=0.6, opacity=1).encode(
        x=alt.value(217), y=alt.value(133)),
    alt.Chart(ONE).mark_point(shape="triangle-up", filled=True, size=24, fill=TFILL, opacity=1).encode(
        x=alt.value(222), y=alt.value(163)),
    alt.Chart(ONE).mark_text(text="Lower end members", align="left", baseline="middle", font=SANS,
                             fontSize=23, color="black").encode(x=alt.value(227), y=alt.value(134)),
    alt.Chart(ONE).mark_text(text="Upper end member", align="left", baseline="middle", font=SANS,
                             fontSize=23, color="black").encode(x=alt.value(227), y=alt.value(158)),
]
pb = panel(WR, H1, [4, 20], [4, 20], MU_MAJ, MU_MIN, MU_MAJ, MU_MIN, "d", 12, False,
           ("pts", (b_lower + b_lower_more, b_upper + b_upper_more)),
           sym_left("μ", "3", 17, 34, SANS, 32, 21) +
           [txt("b.", WR - 14, 37, 35, align="right", style="italic")] +
           sym_right("μ", "2", WR - 12, H1 - 26, SANS, 32) + legend)

pc = panel(WL, H2, [0, 4], [1, 6], T_MAJ, T_MIN, K_MAJ, K_MIN, ".1f", 6, True,
           ("pts", (c_lower + c_lower_more, c_upper + c_upper_more)),
           sym_left("κ", "2", 17, 38, SERIF, 40, 22) +
           [txt("c.", WL - 14, 38, 35, align="right", style="italic")] +
           t2_label(WL - 10, H2 - 20))

pd_ = panel(WR, H2, [1, 6], [1, 6], K_MAJ, K_MIN, K_MAJ, K_MIN, "d", 12, False,
            ("pts", (d_lower + d_lower_more, d_upper + d_upper_more)),
            sym_left("κ", "3", 29, 43, SERIF, 40, 22) +
            [txt("d.", WR - 12, 42, 35, align="right", style="italic")] +
            sym_right("κ", "2", WR - 12, H2 - 24, SERIF, 40))

pe = panel(WL, H3, [0, 4], [1, 6], T_MAJ, T_MIN, K_MAJ, K_MIN, ".1f", 6, True,
           ("pts", (e_lower + e_lower_more, e_upper + e_upper_more)),
           sym_left("κ", "3", 17, 40, SERIF, 40, 22) +
           [txt("e.", WL - 12, 40, 35, align="right", style="italic")] +
           t2_label(WL - 12, H3 - 22))

pf = panel(WR, H3, [4, 20], [1, 6], MU_MAJ, MU_MIN, K_MAJ, K_MIN, "d", 12, False,
           ("pts", (f_lower + f_lower_more, f_upper + f_upper_more)),
           sym_left("κ", "3", 24, 44, SERIF, 40, 22) +
           [txt("f.", WR - 24, 44, 35, align="right", style="italic")] +
           sym_right("μ", "3", WR - 12, H3 - 28, SANS, 32))

chart = alt.concat(pa, pb, pc, pd_, pe, pf, columns=2, spacing={"row": 40, "column": 52},
                   bounds="flush").properties(
    padding={"left": 15, "top": 13, "right": 2, "bottom": 2}
).configure_view(stroke=FRAME, strokeWidth=1.6)

chart.save("out.html", embed_options={"renderer": "svg", "actions": False})
